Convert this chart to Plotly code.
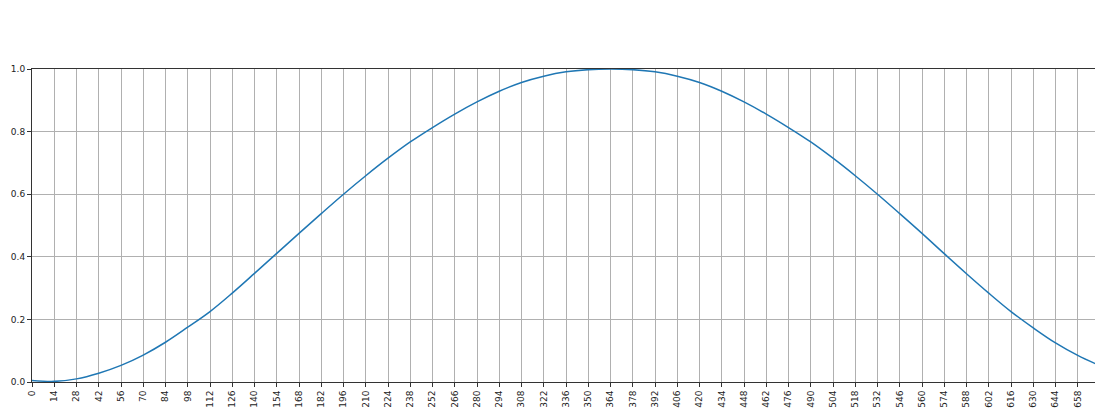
import plotly.graph_objects as go

x_values = list(range(0, 673, 14))
y_values = [
    0.005, 0.002, 0.010, 0.028, 0.053, 0.086, 0.127, 0.175, 0.225, 0.284,
    0.347, 0.411, 0.475, 0.538, 0.600, 0.659, 0.715, 0.767, 0.813, 0.856,
    0.895, 0.929, 0.957, 0.977, 0.991, 0.998, 1.000, 0.998, 0.991, 0.977,
    0.957, 0.929, 0.895, 0.856, 0.813, 0.767, 0.715, 0.659, 0.600, 0.538,
    0.475, 0.410, 0.346, 0.284, 0.225, 0.173, 0.125, 0.085, 0.052,
]
x_ticks = list(range(0, 673, 14))
y_ticks = [0.0, 0.2, 0.4, 0.6, 0.8, 1.0]

fig = go.Figure()
fig.add_trace(go.Scatter(
    x=x_values, y=y_values, mode="lines",
    line=dict(color="#1f77b4", width=1.5, shape="spline", smoothing=1.0),
    showlegend=False, hoverinfo="x+y",
))

axis_common = dict(
    showgrid=True, gridcolor="#b0b0b0", gridwidth=0.8,
    showline=True, linecolor="#333333", linewidth=1, mirror=True,
    ticks="outside", ticklen=4, tickcolor="#333333", tickwidth=1,
    zeroline=False, automargin=False, ticklabeloverflow="allow",
    tickfont=dict(family="DejaVu Sans", size=9, color="#222222"),
)

fig.update_xaxes(range=[0, 672], tickvals=x_ticks, ticktext=[str(v) for v in x_ticks],
                 tickangle=-90, **axis_common)
fig.update_yaxes(range=[0, 1], tickvals=y_ticks, ticktext=[f"{v:.1f}" for v in y_ticks],
                 **axis_common)

# the page body adds an 8px offset, so the figure is sized to fill the rest of the window
fig.update_layout(
    width=1095, height=402,
    margin=dict(l=24, r=3, t=61, b=28, pad=0),
    paper_bgcolor="white", plot_bgcolor="white",
    font=dict(family="DejaVu Sans", size=9, color="#222222"),
)

fig.write_html("out.html")
